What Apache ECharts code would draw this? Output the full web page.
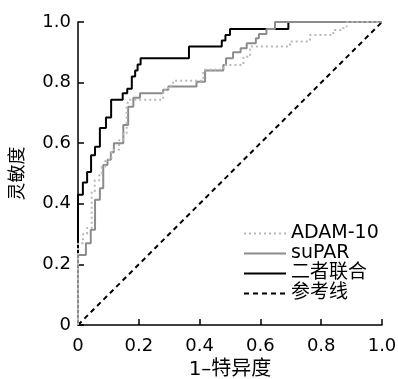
<!DOCTYPE html>
<html>
<head>
<meta charset="utf-8">
<script src="https://cdn.jsdelivr.net/npm/echarts@6/dist/echarts.min.js"></script>
<style>
  html, body { margin: 0; padding: 0; background: #fff; }
  #chart { width: 398px; height: 379px; }
</style>
</head>
<body>
<div id="chart"></div>
<script>
// 坐标轴刻度
let tickValues = [0, 0.2, 0.4, 0.6, 0.8, 1.0];
let seriesNames = ["ADAM-10", "suPAR", "二者联合", "参考线"];

// ROC 曲线拐点 [1-特异度, 灵敏度]
let adamPoints = [
  [0, 0], [0, 0.27], [0.017, 0.27], [0.017, 0.3], [0.03, 0.3], [0.03, 0.32],
  [0.045, 0.32], [0.045, 0.44], [0.055, 0.44], [0.055, 0.478], [0.07, 0.478],
  [0.07, 0.5], [0.078, 0.5], [0.078, 0.522], [0.09, 0.522], [0.09, 0.545],
  [0.11, 0.545], [0.11, 0.578], [0.135, 0.578], [0.135, 0.61], [0.149, 0.61],
  [0.149, 0.633], [0.16, 0.633], [0.16, 0.72], [0.165, 0.72], [0.165, 0.743],
  [0.28, 0.743], [0.28, 0.776], [0.297, 0.776], [0.297, 0.79], [0.313, 0.79],
  [0.313, 0.806], [0.412, 0.806], [0.412, 0.842], [0.478, 0.842], [0.478, 0.858],
  [0.544, 0.858], [0.544, 0.885], [0.566, 0.885], [0.566, 0.919], [0.697, 0.919],
  [0.697, 0.936], [0.763, 0.936], [0.763, 0.957], [0.84, 0.957], [0.84, 0.974],
  [0.873, 0.974], [0.873, 0.985], [0.884, 0.985], [0.884, 1], [1, 1],
];
let suparPoints = [
  [0, 0], [0, 0.231], [0.026, 0.231], [0.026, 0.27], [0.042, 0.27], [0.042, 0.314],
  [0.056, 0.314], [0.056, 0.413], [0.072, 0.413], [0.072, 0.451], [0.083, 0.451],
  [0.083, 0.528], [0.097, 0.528], [0.097, 0.545], [0.108, 0.545], [0.108, 0.57],
  [0.118, 0.57], [0.118, 0.6], [0.149, 0.6], [0.149, 0.66], [0.165, 0.66],
  [0.165, 0.72], [0.182, 0.72], [0.182, 0.75], [0.204, 0.75], [0.204, 0.765],
  [0.28, 0.765], [0.28, 0.776], [0.297, 0.776], [0.297, 0.787], [0.39, 0.787],
  [0.39, 0.803], [0.418, 0.803], [0.418, 0.84], [0.478, 0.84], [0.478, 0.858],
  [0.487, 0.858], [0.487, 0.88], [0.51, 0.88], [0.51, 0.9], [0.535, 0.9],
  [0.535, 0.913], [0.555, 0.913], [0.555, 0.93], [0.585, 0.93], [0.585, 0.946],
  [0.595, 0.946], [0.595, 0.96], [0.62, 0.96], [0.62, 0.977], [0.648, 0.977],
  [0.648, 1], [1, 1],
];
let comboPoints = [
  [0, 0], [0, 0.43], [0.016, 0.43], [0.016, 0.47], [0.03, 0.47], [0.03, 0.505],
  [0.043, 0.505], [0.043, 0.56], [0.056, 0.56], [0.056, 0.588], [0.072, 0.588],
  [0.072, 0.65], [0.092, 0.65], [0.092, 0.685], [0.109, 0.685], [0.109, 0.743],
  [0.147, 0.743], [0.147, 0.765], [0.162, 0.765], [0.162, 0.78], [0.177, 0.78],
  [0.177, 0.82], [0.188, 0.82], [0.188, 0.84], [0.196, 0.84], [0.196, 0.86],
  [0.206, 0.86], [0.206, 0.88], [0.365, 0.88], [0.365, 0.919], [0.473, 0.919],
  [0.473, 0.939], [0.485, 0.939], [0.485, 0.957], [0.5, 0.957], [0.5, 0.977],
  [0.692, 0.977], [0.692, 1], [1, 1],
];
let refPoints = [[0, 0], [1, 1]];

let textFont = "'DejaVu Sans', 'Noto Sans CJK SC', sans-serif";

function tickLabel(v) {
  return v === 0 ? "0" : v.toFixed(1);
}

let axisCommon = {
  type: "value",
  min: 0,
  max: 1,
  interval: 0.2,
  axisLine: { show: true, lineStyle: { color: "#000", width: 1.5 } },
  axisTick: { show: true, inside: true, length: 6, lineStyle: { color: "#000", width: 1.5 } },
  splitLine: { show: false },
};

let rocOption = {
  animation: false,
  backgroundColor: "#fff",
  grid: { left: 78, right: 16, top: 22, bottom: 54, containLabel: false, outerBoundsMode: "none" },
  legend: {
    orient: "vertical",
    left: 238,
    top: 219,
    itemWidth: 42,
    itemHeight: 14,
    itemGap: 1,
    data: seriesNames,
    itemStyle: { opacity: 0 },
    textStyle: { color: "#000", fontSize: 19, fontFamily: textFont },
  },
  xAxis: Object.assign({}, axisCommon, {
    name: "1–特异度",
    nameLocation: "middle",
    nameGap: 33,
    nameTextStyle: { color: "#000", fontSize: 20, fontFamily: textFont },
    axisLabel: { color: "#000", fontSize: 18, fontFamily: textFont, margin: 12, formatter: tickLabel },
  }),
  yAxis: Object.assign({}, axisCommon, {
    name: "灵敏度",
    nameLocation: "middle",
    nameGap: 51,
    nameTextStyle: { color: "#000", fontSize: 18, fontFamily: textFont },
    axisLabel: { color: "#000", fontSize: 18, fontFamily: textFont, margin: 7, formatter: tickLabel },
  }),
  series: [
    {
      name: "二者联合",
      type: "line",
      data: comboPoints,
      symbol: "none",
      z: 3,
      lineStyle: { color: "#000", width: 2 },
      itemStyle: { color: "#000" },
    },
    {
      name: "suPAR",
      type: "line",
      data: suparPoints,
      symbol: "none",
      z: 4,
      lineStyle: { color: "#8c8c8c", width: 2 },
      itemStyle: { color: "#8c8c8c" },
    },
    {
      name: "ADAM-10",
      type: "line",
      data: adamPoints,
      symbol: "none",
      z: 5,
      lineStyle: { color: "#b8b8b8", width: 2, type: [2, 3] },
      itemStyle: { color: "#b8b8b8" },
    },
    {
      name: "参考线",
      type: "line",
      data: refPoints,
      symbol: "none",
      z: 2,
      lineStyle: { color: "#000", width: 2, type: [5, 4] },
      itemStyle: { color: "#000" },
    },
  ],
};

let rocChart = echarts.init(document.getElementById("chart"), null, { renderer: "canvas" });
rocChart.setOption(rocOption);
</script>
</body>
</html>
